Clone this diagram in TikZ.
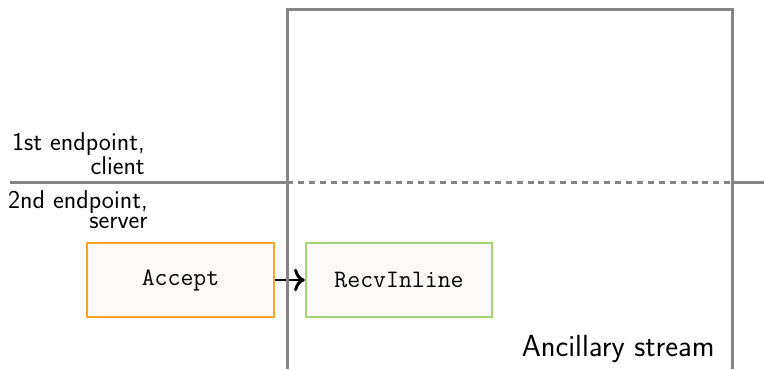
\documentclass[tikz,border=0pt]{standalone}
\usetikzlibrary{positioning, arrows.meta}
\definecolor{LaneGray}{HTML}{858585}
\definecolor{AcceptOrange}{HTML}{F5A623}
\definecolor{RecvGreen}{HTML}{A3D47C}
\definecolor{CallFill}{HTML}{FDF9F8}

\begin{document}
\begin{tikzpicture}[
  x=0.75pt, y=-0.75pt,
  callbox/.style={
    draw, fill=CallFill, line width=1.4pt,
    minimum width=140pt, minimum height=55.5pt,
    font=\fontsize{18.8}{20}\selectfont\ttfamily
  },
  lanelabel/.style={
    align=right, anchor=north east, inner sep=0pt,
    font=\fontsize{19.3}{15}\selectfont\sffamily
  },
  lane/.style={LaneGray, line width=2.25pt},
  arr/.style={-{To[length=8pt, width=17pt]}, black, line width=2.2pt}
]
  \useasboundingbox (0,0) rectangle (764,369);

  % endpoints
  \node[lanelabel] (ep1) at (145,132) {1st endpoint,\\client};
  \node[lanelabel] (ep2) at (148,190) {2nd endpoint,\\server};

  % calls
  \node[callbox, draw=AcceptOrange] (accept) at (180.5,280) {Accept};
  \node[callbox, draw=RecvGreen, right=30*0.75pt of accept] (recv) {RecvInline};
  \draw[arr] (accept) -- (recv);

  % ancillary stream
  \coordinate (sw) at (287,369);
  \coordinate (nw) at (287,9);
  \coordinate (ne) at (732,9);
  \coordinate (se) at (732,369);
  \draw[lane] (sw) -- (nw) -- (ne) -- (se);
  \node[anchor=base east, inner sep=0pt, font=\fontsize{22.9}{25}\selectfont\sffamily]
    (anc) at (715,356) {Ancillary stream};

  % endpoint split
  \coordinate (splitL) at (10,182);
  \coordinate (splitR) at (764,182);
  \draw[lane] (splitL) -- (287,182);
  \draw[lane, dash pattern=on 4.5pt off 3.7pt] (287,182) -- (732,182);
  \draw[lane] (732,182) -- (splitR);
\end{tikzpicture}
\end{document}
